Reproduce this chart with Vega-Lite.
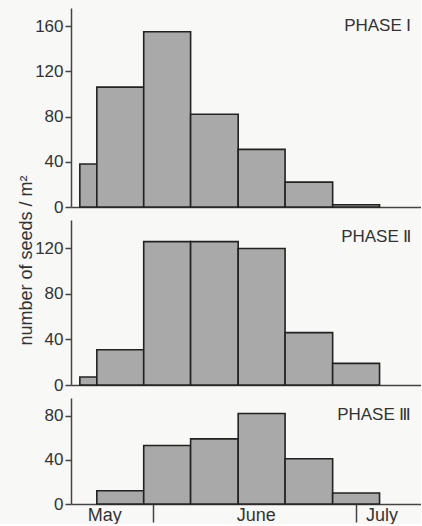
{
  "$schema": "https://vega.github.io/schema/vega-lite/v6.json",
  "background": "#f8f8f6",
  "padding": {"left": 16, "top": 8, "right": 0, "bottom": 0},
  "spacing": 13,
  "bounds": "flush",
  "config": {
    "view": {"stroke": null},
    "font": "Liberation Sans",
    "axis": {
      "domainColor": "#444",
      "domainWidth": 1.5,
      "tickColor": "#444",
      "tickWidth": 1.5,
      "labelColor": "#333",
      "labelFont": "Liberation Sans",
      "titleFont": "Liberation Sans",
      "grid": false
    }
  },
  "datasets": {
    "p1": [
      {"start": 21.3, "end": 23.8, "seeds": 38},
      {"start": 23.8, "end": 30.7, "seeds": 106},
      {"start": 30.7, "end": 37.6, "seeds": 155},
      {"start": 37.6, "end": 44.6, "seeds": 82},
      {"start": 44.6, "end": 51.5, "seeds": 51},
      {"start": 51.5, "end": 58.5, "seeds": 22},
      {"start": 58.5, "end": 65.4, "seeds": 2}
    ],
    "p2": [
      {"start": 21.3, "end": 23.8, "seeds": 7},
      {"start": 23.8, "end": 30.7, "seeds": 31},
      {"start": 30.7, "end": 37.6, "seeds": 126},
      {"start": 37.6, "end": 44.6, "seeds": 126},
      {"start": 44.6, "end": 51.5, "seeds": 120},
      {"start": 51.5, "end": 58.5, "seeds": 46},
      {"start": 58.5, "end": 65.4, "seeds": 19}
    ],
    "p3": [
      {"start": 23.8, "end": 30.7, "seeds": 12},
      {"start": 30.7, "end": 37.6, "seeds": 53},
      {"start": 37.6, "end": 44.6, "seeds": 59},
      {"start": 44.6, "end": 51.5, "seeds": 82},
      {"start": 51.5, "end": 58.5, "seeds": 41},
      {"start": 58.5, "end": 65.4, "seeds": 10}
    ],
    "labels": [
      {"panel": 1, "label": "PHASE Ⅰ", "x": 70.1, "y": 160},
      {"panel": 2, "label": "PHASE Ⅱ", "x": 70.1, "y": 130},
      {"panel": 3, "label": "PHASE Ⅲ", "x": 70.1, "y": 81}
    ]
  },
  "vconcat": [
    {
      "width": 350,
      "height": 199,
      "layer": [
        {
          "data": {"name": "p1"},
          "mark": {"type": "bar", "fill": "#a9a9a9", "stroke": "#222", "strokeWidth": 1.6},
          "encoding": {
            "x": {"field": "start", "type": "quantitative", "scale": {"domain": [20, 71.5], "nice": false, "zero": false},
                  "axis": {"labels": false, "ticks": false, "title": null}},
            "x2": {"field": "end"},
            "y": {"field": "seeds", "type": "quantitative", "scale": {"domain": [0, 176], "nice": false},
                  "axis": {"values": [0, 40, 80, 120, 160], "tickSize": 6, "labelFontSize": 17, "labelPadding": 2, "title": null}},
            "y2": {"datum": 0}
          }
        },
        {
          "data": {"name": "labels"},
          "transform": [{"filter": "datum.panel == 1"}],
          "mark": {"type": "text", "align": "right", "baseline": "middle", "fontSize": 17, "color": "#333", "font": "Liberation Sans"},
          "encoding": {
            "x": {"field": "x", "type": "quantitative"},
            "y": {"field": "y", "type": "quantitative"},
            "text": {"field": "label"}
          }
        },
        {
          "mark": {"type": "rule", "color": "#444", "strokeWidth": 1.5},
          "encoding": {"y": {"datum": 176, "type": "quantitative"}}
        }
      ]
    },
    {
      "width": 350,
      "height": 165,
      "layer": [
        {
          "data": {"name": "p2"},
          "mark": {"type": "bar", "fill": "#a9a9a9", "stroke": "#222", "strokeWidth": 1.6},
          "encoding": {
            "x": {"field": "start", "type": "quantitative", "scale": {"domain": [20, 71.5], "nice": false, "zero": false},
                  "axis": {"labels": false, "ticks": false, "title": null}},
            "x2": {"field": "end"},
            "y": {"field": "seeds", "type": "quantitative", "scale": {"domain": [0, 145], "nice": false},
                  "axis": {"values": [0, 40, 80, 120], "tickSize": 6, "labelFontSize": 17, "labelPadding": 2,
                           "title": "number of seeds / m²", "titleFontSize": 18, "titleFontWeight": "normal", "titleColor": "#333",
                           "titleX": -40, "titleY": 40, "titleBaseline": "alphabetic", "titleAlign": "center", "titleAngle": -90}},
            "y2": {"datum": 0}
          }
        },
        {
          "data": {"name": "labels"},
          "transform": [{"filter": "datum.panel == 2"}],
          "mark": {"type": "text", "align": "right", "baseline": "middle", "fontSize": 17, "color": "#333", "font": "Liberation Sans"},
          "encoding": {
            "x": {"field": "x", "type": "quantitative"},
            "y": {"field": "y", "type": "quantitative"},
            "text": {"field": "label"}
          }
        },
        {
          "mark": {"type": "rule", "color": "#444", "strokeWidth": 1.5},
          "encoding": {"y": {"datum": 145, "type": "quantitative"}}
        }
      ]
    },
    {
      "width": 350,
      "height": 106,
      "layer": [
        {
          "data": {"name": "p3"},
          "mark": {"type": "bar", "fill": "#a9a9a9", "stroke": "#222", "strokeWidth": 1.6},
          "encoding": {
            "x": {"field": "start", "type": "quantitative", "scale": {"domain": [20, 71.5], "nice": false, "zero": false},
                  "axis": {"values": [24.9, 32, 47.2, 62, 65.7], "title": null, "tickSize": 18,
                           "tickColor": {"condition": {"test": "datum.value == 32 || datum.value == 62", "value": "#444"}, "value": "transparent"},
                           "labelExpr": "datum.value < 28 ? 'May' : (datum.value > 40 && datum.value < 50) ? 'June' : datum.value > 64 ? 'July' : ''",
                           "labelFontSize": 18, "labelPadding": -16, "labelBaseline": "top", "labelFlush": false, "labelOverlap": false}},
            "x2": {"field": "end"},
            "y": {"field": "seeds", "type": "quantitative", "scale": {"domain": [0, 96], "nice": false},
                  "axis": {"values": [0, 40, 80], "tickSize": 6, "labelFontSize": 17, "labelPadding": 2, "title": null}},
            "y2": {"datum": 0}
          }
        },
        {
          "data": {"name": "labels"},
          "transform": [{"filter": "datum.panel == 3"}],
          "mark": {"type": "text", "align": "right", "baseline": "middle", "fontSize": 17, "color": "#333", "font": "Liberation Sans"},
          "encoding": {
            "x": {"field": "x", "type": "quantitative"},
            "y": {"field": "y", "type": "quantitative"},
            "text": {"field": "label"}
          }
        },
        {
          "mark": {"type": "rule", "color": "#444", "strokeWidth": 1.5},
          "encoding": {"y": {"datum": 96, "type": "quantitative"}}
        }
      ]
    }
  ]
}
